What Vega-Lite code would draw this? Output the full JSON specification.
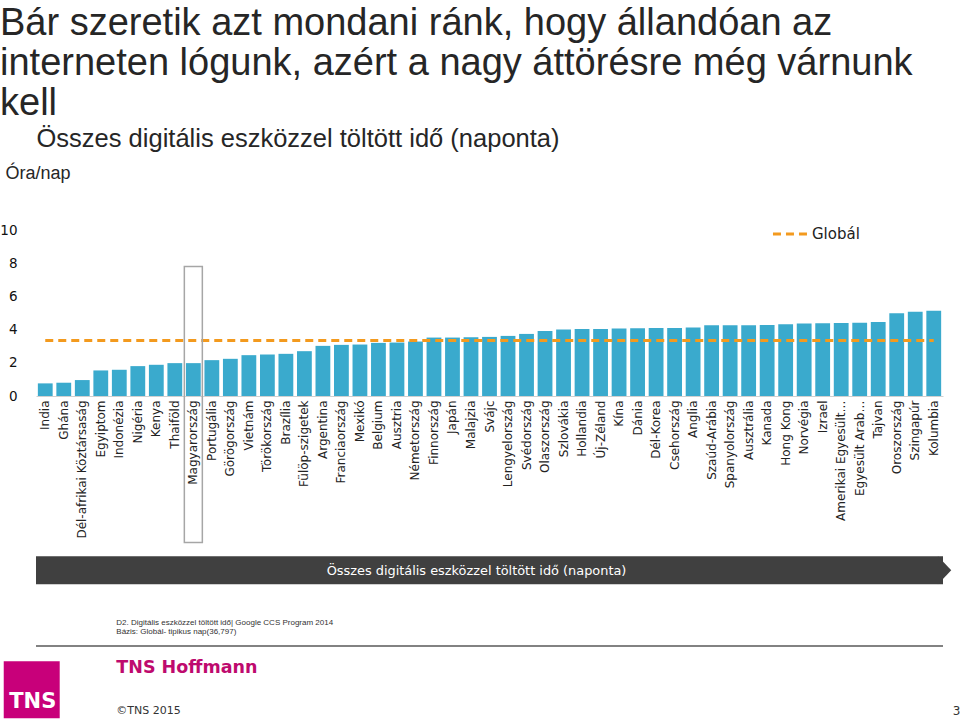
{
  "$schema": "https://vega.github.io/schema/vega-lite/v6.json",
  "width": 907,
  "height": 166,
  "autosize": {"type": "none"},
  "padding": {"left": 36, "top": 230, "right": 17, "bottom": 323},
  "background": "white",
  "data": {"values": [{}]},
  "config": {
    "view": {"stroke": null},
    "axisX": {
      "labelAngle": -90,
      "labelFont": "DejaVu Sans",
      "labelFontSize": 12,
      "labelColor": "#222222",
      "labelPadding": 4,
      "labelOverlap": false,
      "labelLimit": 300,
      "ticks": false,
      "grid": false,
      "domainColor": "#d0d0d0"
    },
    "axisY": {
      "grid": false,
      "ticks": false,
      "domain": false,
      "labelPadding": 19,
      "labelFont": "DejaVu Sans",
      "labelFontSize": 13.5,
      "labelColor": "#111111",
      "labelOverlap": false
    }
  },
  "title": {
    "text": ["Bár szeretik azt mondani ránk, hogy állandóan az", "interneten lógunk, azért a nagy áttörésre még várnunk", "kell"],
    "anchor": "start",
    "frame": "group",
    "dx": -36,
    "offset": 3,
    "font": "Liberation Sans",
    "fontSize": 38,
    "fontWeight": "normal",
    "color": "#262626",
    "lineHeight": 40
  },
  "layer": [
    {
      "data": {"values": [
        {"country": "India", "hours": 0.76},
        {"country": "Ghána", "hours": 0.8},
        {"country": "Dél-afrikai Köztársaság", "hours": 0.96},
        {"country": "Egyiptom", "hours": 1.54},
        {"country": "Indonézia", "hours": 1.58},
        {"country": "Nigéria", "hours": 1.8},
        {"country": "Kenya", "hours": 1.88},
        {"country": "Thaiföld", "hours": 1.98},
        {"country": "Magyarország", "hours": 1.98},
        {"country": "Portugália", "hours": 2.16},
        {"country": "Görögország", "hours": 2.24},
        {"country": "Vietnám", "hours": 2.46},
        {"country": "Törökország", "hours": 2.5},
        {"country": "Brazília", "hours": 2.54},
        {"country": "Fülöp-szigetek", "hours": 2.7},
        {"country": "Argentina", "hours": 3.02},
        {"country": "Franciaország", "hours": 3.08},
        {"country": "Mexikó", "hours": 3.1},
        {"country": "Belgium", "hours": 3.2},
        {"country": "Ausztria", "hours": 3.22},
        {"country": "Németország", "hours": 3.28},
        {"country": "Finnország", "hours": 3.52},
        {"country": "Japán", "hours": 3.52},
        {"country": "Malajzia", "hours": 3.54},
        {"country": "Svájc", "hours": 3.56},
        {"country": "Lengyelország", "hours": 3.62},
        {"country": "Svédország", "hours": 3.74},
        {"country": "Olaszország", "hours": 3.92},
        {"country": "Szlovákia", "hours": 4.0},
        {"country": "Hollandia", "hours": 4.04},
        {"country": "Új-Zéland", "hours": 4.04},
        {"country": "Kína", "hours": 4.06},
        {"country": "Dánia", "hours": 4.08},
        {"country": "Dél-Korea", "hours": 4.1},
        {"country": "Csehország", "hours": 4.1},
        {"country": "Anglia", "hours": 4.12},
        {"country": "Szaúd-Arábia", "hours": 4.26},
        {"country": "Spanyolország", "hours": 4.26},
        {"country": "Ausztrália", "hours": 4.26},
        {"country": "Kanada", "hours": 4.28},
        {"country": "Hong Kong", "hours": 4.32},
        {"country": "Norvégia", "hours": 4.36},
        {"country": "Izrael", "hours": 4.38},
        {"country": "Amerikai Egyesült…", "hours": 4.4},
        {"country": "Egyesült Arab…", "hours": 4.42},
        {"country": "Tajvan", "hours": 4.46},
        {"country": "Oroszország", "hours": 4.98},
        {"country": "Szingapúr", "hours": 5.08},
        {"country": "Kolumbia", "hours": 5.14}
      ]},
      "mark": {"type": "bar", "color": "#3AAACD"},
      "encoding": {
        "x": {
          "field": "country",
          "type": "nominal",
          "scale": {
            "domain": ["India", "Ghána", "Dél-afrikai Köztársaság", "Egyiptom", "Indonézia", "Nigéria", "Kenya", "Thaiföld", "Magyarország", "Portugália", "Görögország", "Vietnám", "Törökország", "Brazília", "Fülöp-szigetek", "Argentina", "Franciaország", "Mexikó", "Belgium", "Ausztria", "Németország", "Finnország", "Japán", "Malajzia", "Svájc", "Lengyelország", "Svédország", "Olaszország", "Szlovákia", "Hollandia", "Új-Zéland", "Kína", "Dánia", "Dél-Korea", "Csehország", "Anglia", "Szaúd-Arábia", "Spanyolország", "Ausztrália", "Kanada", "Hong Kong", "Norvégia", "Izrael", "Amerikai Egyesült…", "Egyesült Arab…", "Tajvan", "Oroszország", "Szingapúr", "Kolumbia"],
            "paddingInner": 0.2,
            "paddingOuter": 0.1
          },
          "axis": {
            "labelAngle": -90,
            "labelFont": "DejaVu Sans",
            "labelFontSize": 12,
            "labelColor": "#222222",
            "labelPadding": 4,
            "labelOverlap": false,
            "labelLimit": 300,
            "ticks": false,
            "domainColor": "#d0d0d0",
            "title": "Összes digitális eszközzel töltött idő (naponta)",
            "titleX": 0,
            "titleY": -258,
            "titleAlign": "left",
            "titleBaseline": "middle",
            "titleFont": "Liberation Sans",
            "titleFontSize": 25.5,
            "titleFontWeight": "normal",
            "titleColor": "#262626"
          }
        },
        "y": {
          "field": "hours",
          "type": "quantitative",
          "scale": {"domain": [0, 10]},
          "axis": {
            "values": [0, 2, 4, 6, 8, 10],
            "labelOverlap": false,
            "labelFont": "DejaVu Sans",
            "labelFontSize": 13.5,
            "labelColor": "#111111",
            "labelPadding": 19,
            "ticks": false,
            "domain": false,
            "grid": false,
            "title": "Óra/nap",
            "titleX": -31,
            "titleY": -57,
            "titleAngle": 0,
            "titleAlign": "left",
            "titleBaseline": "middle",
            "titleFont": "Liberation Sans",
            "titleFontSize": 18,
            "titleFontWeight": "normal",
            "titleColor": "#262626"
          }
        }
      }
    },
    {
      "mark": {"type": "rule", "strokeDash": [8, 5], "strokeWidth": 3},
      "encoding": {
        "x": {"datum": "India"},
        "x2": {"datum": "Kolumbia"},
        "y": {"datum": 3.34, "type": "quantitative", "axis": {"values": [0, 2, 4, 6, 8, 10], "labelOverlap": false}},
        "color": {
          "datum": "Globál",
          "type": "nominal",
          "scale": {"range": ["#F39A1E"]},
          "legend": {
            "orient": "none",
            "legendX": 735,
            "legendY": -16,
            "title": null,
            "symbolType": "stroke",
            "symbolSize": 1300,
            "symbolStrokeWidth": 3,
            "symbolDash": [8, 5],
            "labelFont": "DejaVu Sans",
            "labelFontSize": 15,
            "labelColor": "#222222",
            "labelOffset": 1
          }
        }
      }
    },
    {
      "mark": {"type": "bar", "width": 18, "fill": "white", "fillOpacity": 0, "stroke": "#a6a6a6", "strokeWidth": 1.5},
      "encoding": {
        "x": {"datum": "Magyarország"},
        "y": {"datum": 7.8, "type": "quantitative", "axis": {"values": [0, 2, 4, 6, 8, 10], "labelOverlap": false}},
        "y2": {"datum": -8.82}
      }
    },
    {
      "mark": {"type": "rect", "color": "#404040"},
      "encoding": {
        "y": {"datum": -9.66, "type": "quantitative", "axis": {"values": [0, 2, 4, 6, 8, 10], "labelOverlap": false}},
        "y2": {"datum": -11.34}
      }
    },
    {
      "mark": {"type": "point", "shape": "M0.3,-1L1.25,0L0.3,1Z", "filled": true, "color": "#404040", "opacity": 1, "size": 784},
      "encoding": {
        "x": {"datum": "Kolumbia"},
        "y": {"datum": -10.5, "type": "quantitative", "axis": {"values": [0, 2, 4, 6, 8, 10], "labelOverlap": false}}
      }
    },
    {
      "mark": {"type": "text", "text": "Összes digitális eszközzel töltött idő (naponta)", "color": "white", "font": "DejaVu Sans", "fontSize": 12.9, "dx": -13},
      "encoding": {
        "y": {"datum": -10.56, "type": "quantitative", "axis": {"values": [0, 2, 4, 6, 8, 10], "labelOverlap": false}}
      }
    },
    {
      "mark": {"type": "text", "text": "D2. Digitális eszközzel töltött idő| Google CCS Program 2014", "color": "#333333", "font": "Liberation Sans", "fontSize": 8, "align": "left", "dx": -3},
      "encoding": {
        "x": {"datum": "Indonézia"},
        "y": {"datum": -13.68, "type": "quantitative", "axis": {"values": [0, 2, 4, 6, 8, 10], "labelOverlap": false}}
      }
    },
    {
      "mark": {"type": "text", "text": "Bázis: Globál- tipikus nap(36,797)", "color": "#333333", "font": "Liberation Sans", "fontSize": 8, "align": "left", "dx": -3},
      "encoding": {
        "x": {"datum": "Indonézia"},
        "y": {"datum": -14.22, "type": "quantitative", "axis": {"values": [0, 2, 4, 6, 8, 10], "labelOverlap": false}}
      }
    },
    {
      "mark": {"type": "rule", "color": "#595959", "strokeWidth": 1.5},
      "encoding": {
        "y": {"datum": -15.06, "type": "quantitative", "axis": {"values": [0, 2, 4, 6, 8, 10], "labelOverlap": false}}
      }
    },
    {
      "mark": {"type": "point", "shape": "M-1.457,-1L0.507,-1L0.507,1L-1.457,1Z", "filled": true, "color": "#C8007A", "opacity": 1, "size": 3249},
      "encoding": {
        "x": {"datum": "India"},
        "y": {"datum": -17.7, "type": "quantitative", "axis": {"values": [0, 2, 4, 6, 8, 10], "labelOverlap": false}}
      }
    },
    {
      "mark": {"type": "text", "text": "TNS", "color": "white", "font": "DejaVu Sans", "fontWeight": "bold", "fontSize": 21, "dx": -12.5},
      "encoding": {
        "x": {"datum": "India"},
        "y": {"datum": -18.45, "type": "quantitative", "axis": {"values": [0, 2, 4, 6, 8, 10], "labelOverlap": false}}
      }
    },
    {
      "mark": {"type": "text", "text": "TNS Hoffmann", "color": "#BE0A6E", "font": "DejaVu Sans", "fontWeight": "bold", "fontSize": 17.5, "align": "left", "dx": -3},
      "encoding": {
        "x": {"datum": "Indonézia"},
        "y": {"datum": -16.4, "type": "quantitative", "axis": {"values": [0, 2, 4, 6, 8, 10], "labelOverlap": false}}
      }
    },
    {
      "mark": {"type": "text", "text": "©TNS 2015", "color": "#333333", "font": "DejaVu Sans", "fontSize": 11, "align": "left", "dx": -3},
      "encoding": {
        "x": {"datum": "Indonézia"},
        "y": {"datum": -18.96, "type": "quantitative", "axis": {"values": [0, 2, 4, 6, 8, 10], "labelOverlap": false}}
      }
    },
    {
      "mark": {"type": "text", "text": "3", "color": "#333333", "font": "DejaVu Sans", "fontSize": 12, "align": "left", "dx": 19},
      "encoding": {
        "x": {"datum": "Kolumbia"},
        "y": {"datum": -18.96, "type": "quantitative", "axis": {"values": [0, 2, 4, 6, 8, 10], "labelOverlap": false}}
      }
    }
  ]
}
